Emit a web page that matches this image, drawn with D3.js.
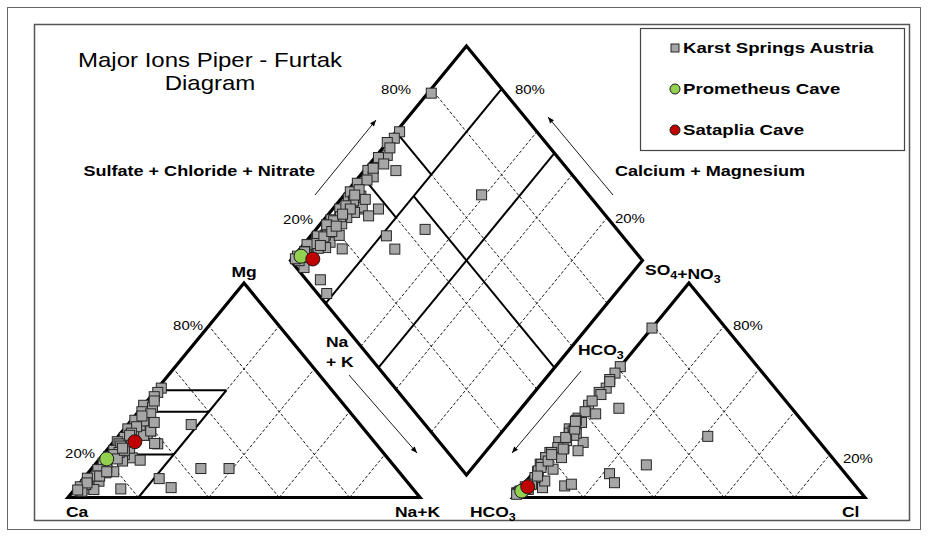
<!DOCTYPE html>
<html>
<head>
<meta charset="utf-8">
<script src="https://cdn.jsdelivr.net/npm/d3@7"></script>
<style>
  body { margin: 0; background: #fff; }
  text { font-family: "Liberation Sans", Arial, sans-serif; fill: #000; }
</style>
</head>
<body>
<div id="chart"></div>
<script>
// Karst springs, % of meq: cations Mg, Na+K (Ca = rest); anions SO4+NO3, Cl (HCO3 = rest)
var karstMg  = [51, 49, 47, 43, 42, 40, 39, 36, 35, 18.5, 32, 31, 31, 29, 28, 29, 26, 25, 25, 23,
                22, 20, 19, 17, 17.4, 15, 12, 11.5, 8, 7.6, 7, 4, 3, 3.7, 4, 34, 8.8, 4.6, 13.5, 13.5,
                25.2, 31, 45, 38, 33, 30, 27, 24, 21, 20, 16, 14, 13, 10, 9, 6, 5, 2.9, 6.8, 3.5,
                10, 18, 22, 26, 29, 35, 23, 12];
var karstNaK = [1, 1, 1, 0, 3, 1, 4, 1, 4, 9, 1, 5, 8, 8, 2, 7, 1, 2, 13, 6,
                2, 6, 2, 7, 11.8, 3, 7, 5, 2, 5, 2, 3, 2, 5.5, 13, 18, 21.5, 27, 31, 39,
                12, 8, 2, 2, 3, 3, 4, 3, 4, 3, 2, 4, 2, 3, 1, 2, 1, 2.5, 2, 1,
                4, 5, 5, 5, 3, 7, 4, 5];
var karstSO4 = [79, 61, 58, 55, 51, 49, 48, 43, 39, 41.6, 37, 34, 32, 25.7, 30, 21.8, 30, 26, 35, 23,
                21, 18.6, 18.6, 15.5, 31, 13.2, 12, 9, 6, 4.6, 7.7, 3.8, 3, 2.2, 3, 2, 11.1, 6.9, 15.2, 28.5,
                5.4, 6.2, 54, 45, 40, 36, 29, 26.5, 23.3, 21, 18.6, 15.5, 12.4, 9.3, 6.2, 3.8, 2.5, 2, 5, 1.5,
                14, 17, 20, 28, 31.9, 35.5, 22.6, 10];
var karstCl  = [0, 0, 0, 0, 1, 0, 1, 0, 4, 9.3, 0, 1, 0, 7.1, 1, 7.6, 3, 0, 2, 3,
                0, 4.5, 0, 0, 1.6, 4.8, 1, 2, 2, 6.1, 5.2, 2.4, 0.5, 0, 1, 0.6, 21.9, 25.4, 30.3, 41.1,
                12, 13.5, 0.5, 0, 0.5, 0, 2.8, 2, 1.1, 0.5, 0, 0.3, 1, 1.6, 2.2, 2.4, 0.5, 0.4, 1, 0.3,
                1, 1.5, 1, 1, 1.6, 0, 3, 2];

var caveNames  = ["Prometheus Cave", "Sataplia Cave"];
var caveMg     = [18, 26];
var caveNaK    = [2, 6];
var caveSO4    = [3, 5];
var caveCl     = [1, 1.7];
var caveColors = ["#92d050", "#c00000"];

var gridTicks = [20, 40, 60, 80];

// Furtak-Langguth field boundaries, percent [from, to]
var cationBounds = [ {mg: [0, 50], nak: [20, 20]}, {mg: [20, 20], nak: [0, 20]},
                     {mg: [40, 40], nak: [0, 20]}, {mg: [50, 50], nak: [0, 20]} ];
var diamondBounds = [ {c: [80, 80], s: [0, 100]}, {c: [50, 50], s: [0, 100]},
                      {c: [0, 80], s: [50, 50]}, {c: [80, 100], s: [40, 40]}, {c: [80, 100], s: [60, 60]} ];

var width = 928, height = 537;
var svg = d3.select("#chart").append("svg")
    .attr("width", width)
    .attr("height", height);

svg.append("rect").attr("x", 7.5).attr("y", 7.5).attr("width", 913).attr("height", 522)
    .attr("fill", "#fff").attr("stroke", "#666").attr("stroke-width", 1);
svg.append("rect").attr("x", 34.5).attr("y", 24.5).attr("width", 875).attr("height", 496)
    .attr("fill", "#fff").attr("stroke", "#555").attr("stroke-width", 1.5);

var defs = svg.append("defs");
defs.append("marker")
    .attr("id", "arrow")
    .attr("viewBox", "0 0 10 10")
    .attr("refX", 10).attr("refY", 5)
    .attr("markerWidth", 8).attr("markerHeight", 7)
    .attr("orient", "auto")
  .append("path")
    .attr("d", "M0,1 L10,5 L0,9 Z")
    .attr("fill", "#000");

//
// Scales: one unit = triangle side (x) and triangle height (y)
//
var x = d3.scaleLinear().domain([0, 1]).range([68, 420]);
var y = d3.scaleLinear().domain([0, 1]).range([497.5, 283]);
var gap = 0.264;
var rightOff = 1 + gap;
var dX = 1 + gap / 2, dY = 0.105;

function cat(mg, nak) { return [x(nak + mg / 2), y(mg)]; }
function an(so4, cl) { return [x(rightOff + cl + so4 / 2), y(so4)]; }
function dia(c, s) { return [x(dX - c / 2 + s / 2), y(dY + c + s)]; }

var line = d3.line();

function seg(p1, p2, w, dash) {
    svg.append("path")
        .attr("d", line([p1, p2]))
        .attr("fill", "none")
        .attr("stroke", "#000")
        .attr("stroke-width", w)
        .attr("stroke-dasharray", dash ? "3,2" : null);
}

// dashed grid
gridTicks.forEach(function(t) {
    var k = t / 100;
    seg(cat(0, k), cat(1 - k, k), 0.9, true);
    seg(cat(0, 1 - k), cat(1 - k, 0), 0.9, true);
    seg(an(0, k), an(1 - k, k), 0.9, true);
    seg(an(0, 1 - k), an(1 - k, 0), 0.9, true);
    seg(dia(k, 0), dia(k, 1), 0.9, true);
    seg(dia(0, k), dia(1, k), 0.9, true);
});

// field boundaries
cationBounds.forEach(function(b) {
    seg(cat(b.mg[0] / 100, b.nak[0] / 100), cat(b.mg[1] / 100, b.nak[1] / 100), 2);
});
diamondBounds.forEach(function(b) {
    seg(dia(b.c[0] / 100, b.s[0] / 100), dia(b.c[1] / 100, b.s[1] / 100), 2);
});

// outlines
function outline(pts) {
    svg.append("path")
        .attr("d", line(pts) + "Z")
        .attr("fill", "none")
        .attr("stroke", "#000")
        .attr("stroke-width", 3.2)
        .attr("stroke-linejoin", "miter");
}
outline([cat(0, 0), cat(0, 1), cat(1, 0)]);
outline([an(0, 0), an(0, 1), an(1, 0)]);
outline([dia(0, 0), dia(1, 0), dia(1, 1), dia(0, 1)]);

//
// Points
//
var karst = karstMg.map(function(d, i) {
    return {mg: d / 100, nak: karstNaK[i] / 100, so4: karstSO4[i] / 100, cl: karstCl[i] / 100};
});
function positions(d) {
    return [cat(d.mg, d.nak), an(d.so4, d.cl), dia(1 - d.nak, d.so4 + d.cl)];
}

var sq = 10;
karst.forEach(function(d) {
    positions(d).forEach(function(p) {
        svg.append("rect")
            .attr("x", p[0] - sq / 2).attr("y", p[1] - sq / 2)
            .attr("width", sq).attr("height", sq)
            .attr("fill", "#a6a6a6")
            .attr("stroke", "#262626")
            .attr("stroke-width", 1);
    });
});

caveNames.forEach(function(n, i) {
    var d = {mg: caveMg[i] / 100, nak: caveNaK[i] / 100, so4: caveSO4[i] / 100, cl: caveCl[i] / 100};
    positions(d).forEach(function(p) {
        svg.append("circle")
            .attr("cx", p[0]).attr("cy", p[1]).attr("r", 7)
            .attr("fill", caveColors[i])
            .attr("stroke", "#1a1a1a")
            .attr("stroke-width", 1);
    });
});

//
// Labels
//
function label(parts, px, py, size, bold, anchor, sx) {
    var t = svg.append("text")
        .attr("transform", "translate(" + px + "," + py + ") scale(" + (sx || 1) + ",1)")
        .attr("text-anchor", anchor || "start")
        .style("font-size", size + "px")
        .style("font-weight", bold ? "bold" : "normal");
    if (typeof parts === "string") parts = [parts];
    parts.forEach(function(p) {
        if (typeof p === "string") {
            t.append("tspan").text(p);
        } else {
            t.append("tspan").attr("dy", 4).style("font-size", (size - 4) + "px").text(p.sub);
            t.append("tspan").attr("dy", -4).text("");
        }
    });
    return t;
}

label("Major Ions Piper - Furtak", 210, 67, 20, false, "middle", 1.2);
label("Diagram", 210, 90, 20, false, "middle", 1.2);

var bs = 1.25;
label("Mg", 244, 277, 14, true, "middle", bs);
label("Ca", 66, 517, 14, true, "start", bs);
label("Na+K", 395, 517, 14, true, "start", bs);
label(["HCO", {sub: "3"}], 470, 517, 14, true, "start", bs);
label("Cl", 842, 517, 14, true, "start", bs);
label(["SO", {sub: "4"}, "+NO", {sub: "3"}], 645, 275, 14, true, "start", bs);
label(["HCO", {sub: "3"}], 578, 355, 14, true, "start", bs);
label("Na", 326, 347, 14, true, "start", bs);
label("+ K", 326, 367, 14, true, "start", bs);
label("Sulfate + Chloride + Nitrate", 315, 176, 14, true, "end", 1.29);
label("Calcium + Magnesium", 615, 176, 14, true, "start", 1.29);

var ps = 1.15;
label("80%", 203, 330, 13, false, "end", ps);
label("20%", 95, 458, 13, false, "end", ps);
label("80%", 411, 94, 13, false, "end", ps);
label("20%", 313, 224, 13, false, "end", ps);
label("80%", 515, 94, 13, false, "start", ps);
label("20%", 615, 223, 13, false, "start", ps);
label("80%", 733, 330, 13, false, "start", ps);
label("20%", 843, 463, 13, false, "start", ps);

// arrows
function arrow(x1, y1, x2, y2) {
    svg.append("line")
        .attr("x1", x1).attr("y1", y1).attr("x2", x2).attr("y2", y2)
        .attr("stroke", "#000").attr("stroke-width", 0.9)
        .attr("marker-end", "url(#arrow)");
}
arrow(315, 195, 376, 120);
arrow(613, 195, 548, 117);
arrow(349, 375, 417, 453);
arrow(581, 371, 512, 453);

// Legend
svg.append("rect")
    .attr("x", 640.5).attr("y", 28.5).attr("width", 264).attr("height", 122)
    .attr("fill", "#fff").attr("stroke", "#444").attr("stroke-width", 1.2);

var legY = [48, 89, 130];
svg.append("rect")
    .attr("x", 671).attr("y", legY[0] - 4).attr("width", 8).attr("height", 8)
    .attr("fill", "#a6a6a6").attr("stroke", "#262626");
label("Karst Springs Austria", 683, legY[0] + 5, 14, true, "start", 1.33);
caveNames.forEach(function(n, i) {
    svg.append("circle")
        .attr("cx", 675).attr("cy", legY[i + 1]).attr("r", 5)
        .attr("fill", caveColors[i]).attr("stroke", "#1a1a1a");
    label(n, 683, legY[i + 1] + 5, 14, true, "start", 1.33);
});
</script>
</body>
</html>
